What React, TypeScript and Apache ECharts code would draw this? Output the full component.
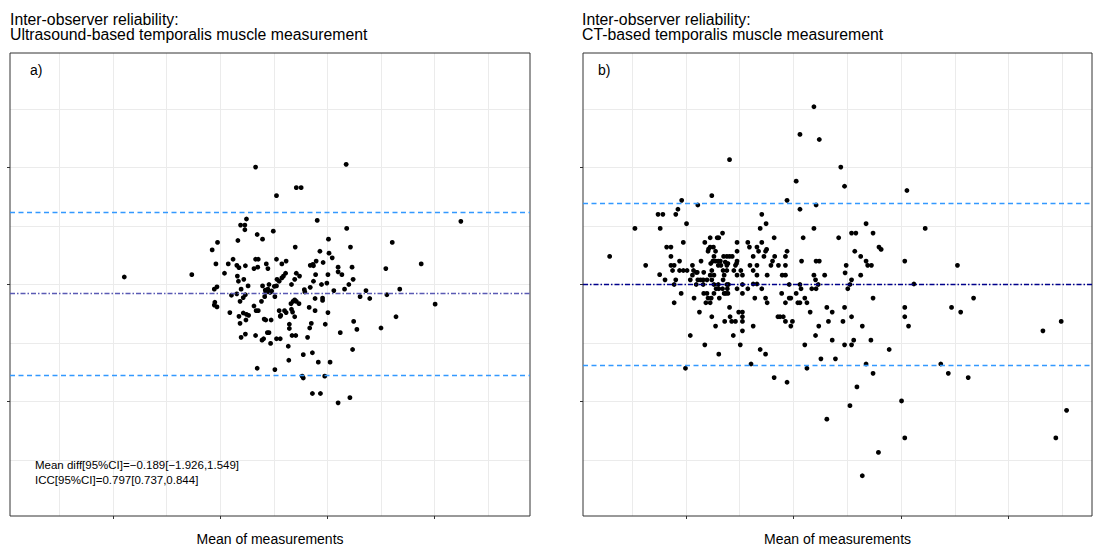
import React, { useEffect, useRef } from "react";
import * as echarts from "echarts";

// ---------- DATA ----------
const titleLeft = "Inter-observer reliability:\nUltrasound-based temporalis muscle measurement";
const titleRight = "Inter-observer reliability:\nCT-based temporalis muscle measurement";
const panelLabels = ["a)", "b)"];
const xAxisName = "Mean of measurements";
const annotationLines = [
  "Mean diff[95%CI]=\u22120.189[\u22121.926,1.549]",
  "ICC[95%CI]=0.797[0.737,0.844]",
];
// [mean diff, upper LoA, lower LoA]
const usLines = [-0.189, 1.549, -1.926];
const ctLines = [0.003, 1.737, -1.731];

// Ultrasound: [mean of measurements, difference]
const usPoints: [number, number][] = [
  [4.21,0.16],[5.47,0.21],[6.66,2.51],[8.35,2.57],[7.05,1.90],[7.42,2.07],[7.51,2.07],[10.49,1.35],[7.81,1.37],[6.49,1.40],
  [6.38,1.27],[6.46,1.27],[6.46,1.17],[8.36,1.20],[6.99,1.14],[6.69,1.07],[6.79,0.97],[6.33,0.94],[5.95,0.90],[5.85,0.74],
  [8.02,0.97],[9.21,0.90],[7.40,0.80],[8.43,0.80],[7.86,0.71],[8.03,0.67],[8.09,0.57],[7.05,0.54],[7.23,0.50],[7.15,0.44],
  [7.79,0.50],[7.92,0.47],[7.68,0.41],[7.73,0.43],[7.74,0.40],[6.24,0.54],[6.15,0.44],[5.92,0.44],[6.31,0.41],[6.35,0.36],
  [6.47,0.40],[6.66,0.54],[6.71,0.54],[6.70,0.37],[6.63,0.34],[6.86,0.44],[6.89,0.34],[8.20,0.37],[8.46,0.37],[9.09,0.34],
  [9.75,0.44],[6.08,0.24],[6.32,0.18],[6.34,0.07],[6.44,0.11],[6.52,-0.03],[6.79,-0.03],[6.91,0.00],[7.01,-0.04],[7.05,-0.03],
  [7.06,0.11],[7.10,0.07],[7.15,0.14],[7.18,0.18],[7.22,0.24],[7.33,0.00],[7.39,0.11],[7.42,0.24],[7.48,0.18],[7.57,-0.11],
  [7.58,-0.16],[7.68,-0.06],[7.74,0.07],[7.78,0.21],[7.89,0.00],[7.99,0.03],[8.01,0.21],[8.12,-0.13],[8.20,0.27],[8.27,0.21],
  [8.32,-0.10],[8.40,0.00],[8.48,0.11],[8.72,-0.13],[8.61,-0.26],[8.79,-0.30],[9.11,-0.22],[9.35,-0.10],[10.01,-0.42],[9.28,-0.69],
  [9.00,-0.93],[8.49,-0.79],[8.55,-0.96],[8.24,-1.03],[8.47,-1.39],[5.89,-0.10],[5.94,-0.05],[5.90,-0.38],[5.89,-0.44],[5.94,-0.48],
  [6.18,-0.60],[6.21,-0.23],[6.31,-0.20],[6.39,-0.10],[6.43,-0.28],[6.47,-0.22],[6.37,-0.36],[6.35,-0.68],[6.43,-0.61],[6.49,-0.64],
  [6.53,-0.66],[6.48,-0.76],[6.37,-0.83],[6.63,-0.46],[6.67,-0.56],[6.71,-0.56],[6.84,-0.12],[6.85,-0.17],[6.89,-0.10],[6.93,-0.17],
  [6.96,-0.14],[6.83,-0.26],[7.02,-0.26],[6.77,-0.36],[6.82,-0.74],[6.85,-0.76],[6.95,-0.76],[7.10,-0.56],[7.13,-0.66],[7.20,-0.56],
  [7.23,-0.60],[7.12,-0.68],[7.32,-0.41],[7.36,-0.36],[7.39,-0.33],[7.42,-0.36],[7.47,-0.41],[7.33,-0.53],[7.35,-0.59],[7.39,-0.69],
  [7.29,-0.85],[7.29,-0.94],[7.34,-1.09],[7.41,-1.09],[7.66,-0.49],[7.77,-0.30],[7.77,-0.56],[7.91,-0.29],[7.91,-0.34],[8.01,-0.60],
  [7.70,-0.83],[7.67,-0.93],[7.63,-1.13],[7.96,-0.85],[6.39,-1.13],[6.47,-1.06],[6.66,-1.09],[6.78,-1.19],[6.81,-1.16],[6.88,-1.03],
  [6.91,-1.03],[6.94,-1.26],[7.05,-1.16],[7.12,-1.16],[7.27,-1.32],[7.28,-1.62],[7.55,-1.50],[7.72,-1.46],[7.83,-1.66],[8.05,-1.66],
  [6.69,-1.79],[7.02,-1.82],[7.53,-1.96],[7.55,-2.00],[7.95,-1.96],[7.72,-2.33],[7.87,-2.33],[8.20,-2.53],[8.42,-2.42],
];

// CT: [mean of measurements, difference]
const ctPoints: [number, number][] = [
  [6.38,3.80],[6.12,3.21],[6.48,3.10],[4.81,2.67],[6.88,2.51],[6.95,2.10],[6.05,2.21],[5.88,1.80],[6.12,1.61],[6.42,1.70],
  [4.48,1.90],[3.92,1.80],[3.85,1.61],[4.22,1.70],[3.48,1.50],[3.57,1.50],[3.81,1.50],[3.05,1.20],[3.52,1.20],[4.01,1.30],
  [5.41,1.50],[5.49,1.30],[5.38,1.20],[6.38,1.20],[7.35,1.30],[7.08,1.10],[7.16,1.10],[7.48,1.10],[6.84,1.00],[6.18,1.00],
  [5.64,1.00],[4.68,1.10],[4.45,1.00],[4.58,1.00],[4.61,1.00],[2.58,0.60],[3.25,0.41],[3.64,0.80],[3.72,0.80],[3.72,0.60],
  [3.51,0.21],[3.61,0.10],[3.72,0.41],[3.78,0.41],[3.75,0.30],[3.88,0.50],[3.95,0.90],[3.81,0.10],[3.78,0.00],[3.88,0.30],
  [3.95,0.30],[4.02,0.30],[4.12,0.41],[4.14,0.30],[4.19,0.26],[4.21,0.26],[4.08,0.10],[4.12,0.20],[4.22,0.10],[4.27,0.10],
  [4.32,0.10],[4.19,0.00],[4.32,0.00],[4.28,0.50],[4.33,0.26],[4.35,0.90],[4.41,0.71],[4.45,0.80],[4.42,0.76],[4.51,0.80],
  [4.55,0.71],[4.46,0.45],[4.50,0.50],[4.55,0.50],[4.60,0.50],[4.52,0.60],[4.60,0.41],[4.65,0.41],[4.48,0.30],[4.52,0.20],
  [4.45,0.20],[4.39,0.10],[4.48,0.10],[4.52,0.00],[4.64,0.50],[4.73,0.48],[4.76,0.41],[4.70,0.60],[4.76,0.60],[4.81,0.60],
  [4.86,0.60],[4.69,0.30],[4.76,0.30],[4.71,0.20],[4.69,0.10],[4.76,0.00],[4.79,0.00],[4.60,0.00],[4.56,-0.09],[4.78,0.45],
  [4.89,0.30],[4.92,0.41],[4.94,0.45],[4.95,0.50],[4.95,0.90],[4.95,0.71],[4.95,0.20],[5.05,0.20],[5.02,0.30],[5.05,0.00],
  [5.15,0.90],[5.18,0.80],[5.32,0.80],[5.25,0.60],[5.19,0.41],[5.32,0.41],[5.25,0.30],[5.32,0.20],[5.35,0.71],[5.41,0.90],
  [5.45,0.60],[5.48,0.71],[5.50,0.75],[5.51,0.20],[5.58,0.41],[5.61,0.50],[5.65,0.60],[5.72,0.41],[5.79,0.20],[5.85,0.20],
  [5.85,0.41],[5.85,0.60],[5.88,0.71],[5.92,0.00],[6.12,0.00],[6.15,0.50],[6.38,0.20],[6.41,0.10],[6.46,0.00],[6.42,0.50],
  [6.48,0.50],[6.58,0.20],[6.96,0.25],[6.98,0.41],[7.08,0.10],[7.05,0.00],[7.14,0.71],[7.25,0.60],[7.25,0.20],[7.35,0.50],
  [7.38,0.41],[7.45,0.41],[7.59,0.80],[7.63,0.75],[3.91,-0.19],[3.78,-0.39],[4.15,-0.29],[4.33,-0.19],[4.39,-0.19],[4.37,-0.39],
  [4.41,-0.29],[4.45,-0.39],[4.47,-0.29],[4.48,-0.69],[4.52,-0.19],[4.61,-0.09],[4.62,-0.29],[4.68,-0.09],[4.71,-0.19],[4.74,-0.19],
  [4.78,-0.19],[4.77,-0.09],[4.81,-0.49],[4.82,-0.69],[4.72,-0.79],[4.85,-0.79],[4.92,-0.79],[4.95,-0.09],[4.98,-0.59],[5.05,-0.59],
  [5.05,-0.69],[5.05,-0.79],[5.05,-0.99],[4.88,-1.09],[5.05,-0.19],[5.15,-0.09],[5.25,0.01],[5.32,0.01],[5.28,-0.29],[5.41,-0.09],
  [5.48,-0.29],[5.51,-0.39],[5.25,-0.89],[5.01,-1.29],[5.21,-1.70],[5.38,-1.39],[5.48,-1.49],[5.78,-0.19],[5.85,-0.39],[5.92,-0.29],
  [5.95,-0.29],[6.05,-0.19],[6.08,-0.39],[6.12,-0.39],[6.14,-0.09],[6.21,-0.29],[6.25,-0.39],[6.31,-0.59],[6.34,-0.09],[6.42,-0.09],
  [6.62,-0.49],[6.72,-0.59],[6.65,-0.79],[6.47,-0.89],[6.41,-1.09],[6.21,-1.29],[6.72,-1.19],[6.51,-1.59],[6.78,-1.59],[6.95,-0.49],
  [6.95,-1.29],[6.92,-0.79],[7.08,-0.69],[7.08,-1.29],[7.12,-1.19],[7.28,-0.89],[7.44,-1.19],[7.01,-0.09],[7.48,-0.29],[7.78,-1.39],
  [8.07,-0.49],[8.07,-0.69],[8.14,-0.89],[8.24,0.01],[7.35,-1.70],[7.48,-1.90],[7.18,-2.19],[7.05,-2.59],[6.62,-2.88],[6.25,-1.79],
  [5.88,-2.09],[5.64,-1.99],[5.71,-0.69],[5.75,-0.69],[5.81,-0.69],[5.85,-0.79],[5.98,-0.79],[5.95,-0.89],[4.08,-1.09],[4.35,-1.29],
  [4.61,-1.49],[4.55,-0.89],[4.25,-0.59],[3.99,-1.79],[8.94,-0.49],[9.11,-0.59],[9.35,-0.29],[8.74,-1.70],[8.88,-1.90],[9.25,-1.99],
  [8.01,-2.49],[8.07,-3.28],[7.58,-3.59],[7.28,-4.09],[10.64,-0.99],[10.98,-0.79],[11.08,-2.69],[10.88,-3.28],[8.11,2.01],[8.45,1.20],
  [8.07,0.50],[9.05,0.41],
];

// axis ranges / breaks (unlabelled in the reference)
const usXRange = [2.078, 11.78];
const ctXRange = [2.084, 11.553];
const yRange = [-4.95, 4.95];
const xMinorBreaks = [3, 11, 1];
const xMajorBreaks = [4, 10, 2];
const yMinorBreaks = [-3.75, 3.75, 1.25];
const yMajorBreaks = [-2.5, 2.5, 2.5];

// ---------- LAYOUT ----------
const FONT = "Liberation Sans, Arial, Helvetica, sans-serif";
const panels = [
  { left: 10, top: 53, width: 520, height: 463, xr: usXRange, meanColor: "#5a5ab4" },
  { left: 583, top: 53, width: 509, height: 463, xr: ctXRange, meanColor: "#00008b" },
];

function buildPanel(i: number, pts: [number, number][], lines: number[]) {
  const P = panels[i];
  const [xmin, xmax] = P.xr;
  const [ymin, ymax] = yRange;
  const xTo = (v: number) => P.left + ((v - xmin) / (xmax - xmin)) * P.width;
  const yTo = (v: number) => P.top + ((ymax - v) / (ymax - ymin)) * P.height;
  const base = i * 5;
  const off = { show: false };
  const hidden = (g: number) => ({ type: "value", gridIndex: g, show: false, min: 0, max: 1 });
  const gb = { outerBoundsMode: "none", containLabel: false };

  const grids = [
    { ...gb, left: P.left, top: P.top, width: P.width, height: P.height, show: true, borderColor: "#333333", borderWidth: 1, backgroundColor: "transparent", z: 3 },
    { ...gb, left: xTo(xMinorBreaks[0]), width: xTo(xMinorBreaks[1]) - xTo(xMinorBreaks[0]), top: P.top, height: P.height },
    { ...gb, left: P.left, width: P.width, top: yTo(yMinorBreaks[1]), height: yTo(yMinorBreaks[0]) - yTo(yMinorBreaks[1]) },
    { ...gb, left: xTo(xMajorBreaks[0]), width: xTo(xMajorBreaks[1]) - xTo(xMajorBreaks[0]), top: P.top, height: P.height },
    { ...gb, left: P.left, width: P.width, top: yTo(yMajorBreaks[1]), height: yTo(yMajorBreaks[0]) - yTo(yMajorBreaks[1]) },
  ];
  const grid = { show: true, lineStyle: { color: "#ebebeb", width: 1 } };
  const tick = { show: true, inside: false, length: 3, lineStyle: { color: "#333333", width: 1 } };

  const xAxes = [
    {
      type: "value", gridIndex: base, min: xmin, max: xmax,
      axisLine: off, axisTick: off, axisLabel: off, splitLine: off,
      name: xAxisName, nameLocation: "middle", nameGap: 16,
      nameTextStyle: { fontSize: 14, color: "#000", fontFamily: FONT },
    },
    { type: "value", gridIndex: base + 1, min: xMinorBreaks[0], max: xMinorBreaks[1], interval: xMinorBreaks[2], axisLine: off, axisTick: off, axisLabel: off, splitLine: grid },
    hidden(base + 2),
    { type: "value", gridIndex: base + 3, min: xMajorBreaks[0], max: xMajorBreaks[1], interval: xMajorBreaks[2], axisLine: off, axisTick: tick, axisLabel: off, splitLine: off },
    hidden(base + 4),
  ];
  const yAxes = [
    { type: "value", gridIndex: base, min: ymin, max: ymax, axisLine: off, axisTick: off, axisLabel: off, splitLine: off },
    hidden(base + 1),
    { type: "value", gridIndex: base + 2, min: yMinorBreaks[0], max: yMinorBreaks[1], interval: yMinorBreaks[2], axisLine: off, axisTick: off, axisLabel: off, splitLine: grid },
    hidden(base + 3),
    { type: "value", gridIndex: base + 4, min: yMajorBreaks[0], max: yMajorBreaks[1], interval: yMajorBreaks[2], axisLine: off, axisTick: tick, axisLabel: off, splitLine: off },
  ];
  const dash = { color: "#3399ff", width: 1.3, type: [5, 3.5] };
  const series = [
    {
      type: "scatter",
      xAxisIndex: base, yAxisIndex: base,
      data: pts,
      symbol: "circle",
      symbolSize: 4.8,
      itemStyle: { color: "#000000", opacity: 1 },
      silent: true,
      markLine: {
        silent: true,
        symbol: ["none", "none"],
        label: { show: false },
        data: [
          { yAxis: lines[1], lineStyle: dash },
          { yAxis: lines[2], lineStyle: dash },
          { yAxis: lines[0], lineStyle: { color: P.meanColor, width: 1.3, type: [5, 2, 1.5, 2] } },
        ],
      },
    },
  ];
  return { grids, xAxes, yAxes, series };
}

export default function App() {
  const ref = useRef<HTMLDivElement>(null);
  useEffect(() => {
    if (!ref.current) return;
    const chart = echarts.init(ref.current, undefined, { renderer: "svg" });
    const a = buildPanel(0, usPoints, usLines);
    const b = buildPanel(1, ctPoints, ctLines);
    const titleStyle = { fontSize: 15.8, fontWeight: "normal", color: "#000", fontFamily: FONT, lineHeight: 15.5 };
    chart.setOption({
      animation: false,
      backgroundColor: "#ffffff",
      title: [
        { text: titleLeft, left: 10, top: 11.5, padding: 0, textStyle: titleStyle },
        { text: titleRight, left: 582, top: 11.5, padding: 0, textStyle: titleStyle },
      ],
      grid: [...a.grids, ...b.grids],
      xAxis: [...a.xAxes, ...b.xAxes],
      yAxis: [...a.yAxes, ...b.yAxes],
      series: [...a.series, ...b.series],
      graphic: [
        { type: "text", z: 10, left: 30, top: 63, style: { text: panelLabels[0], fontSize: 14, fill: "#000", fontFamily: FONT } },
        { type: "text", z: 10, left: 598, top: 63, style: { text: panelLabels[1], fontSize: 14, fill: "#000", fontFamily: FONT } },
        { type: "text", z: 10, left: 35, top: 457, style: { text: annotationLines.join("\n"), fontSize: 11.5, lineHeight: 15.5, fill: "#000", fontFamily: FONT } },
      ],
    });
    return () => chart.dispose();
  }, []);
  return <div ref={ref} style={{ position: "fixed", left: 0, top: 0, width: 1094, height: 546, background: "#fff" }} />;
}
